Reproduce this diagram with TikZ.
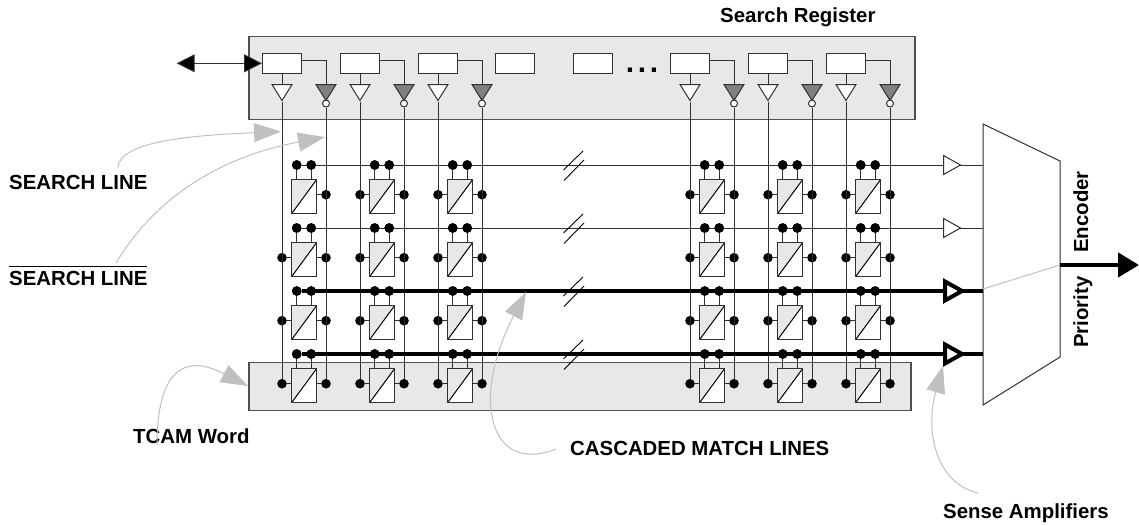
\documentclass[tikz,border=0pt]{standalone}
\usepackage{fontspec}
\setmainfont{Liberation Sans}
\usetikzlibrary{arrows.meta, shapes.geometric}
\definecolor{cwire}{HTML}{303030}
\definecolor{cpanel}{HTML}{E8E8E8}
\definecolor{cinv}{HTML}{808080}
\definecolor{cnote}{HTML}{C0C0C0}
\tikzset{
  panel/.style={draw=cwire!85, fill=cpanel, line width=1.1pt},
  wire/.style={draw=cwire, line width=1pt},
  thickwire/.style={draw=black, line width=4.4pt},
  regbox/.style={draw=cwire, fill=white, line width=1pt, inner sep=0pt,
    minimum width=39pt, minimum height=20pt},
  tricell/.style={draw=cwire, fill=white, line width=1pt, inner sep=0pt,
    minimum width=25pt, minimum height=34pt,
    path picture={
      \fill[cpanel] (path picture bounding box.north west)
        -- (path picture bounding box.north east)
        -- (path picture bounding box.south west) -- cycle;
      \draw[line width=1pt, black] (path picture bounding box.south west)
        -- (path picture bounding box.north east);
    }},
  wdot/.style={circle, fill=black, inner sep=0pt, minimum size=9.6pt},
  bubble/.style={circle, draw=cwire, fill=white, line width=1pt,
    inner sep=0pt, minimum size=7pt},
  tribuf/.style={isosceles triangle, isosceles triangle stretches,
    draw=cwire, line width=1pt, inner sep=0pt, anchor=lower side},
  downbuf/.style={tribuf, shape border rotate=270, fill=#1,
    minimum width=20pt, minimum height=16pt},
  sense/.style={tribuf, fill=white, minimum width=19pt, minimum height=17pt},
  lbl/.style={font=\fontsize{20.4}{24}\selectfont\bfseries, text=black,
    inner sep=0pt, anchor=base west},
  note/.style={draw=cnote, line width=1pt,
    -{Triangle[length=27pt,width=19pt,fill=cnote]}},
}

\begin{document}
\begin{tikzpicture}[x=1pt, y=-1pt]
\useasboundingbox (0,0) rectangle (1139,525);

%% ── Panels ────────────────────────────────────────────────
\node[panel, minimum width=666pt, minimum height=82.6pt, inner sep=0pt] (regpanel) at (582,78) {};
\node[panel, minimum width=662pt, minimum height=48.7pt, inner sep=0pt] (wordpanel) at (580,386.4) {};

%% ── Search register ───────────────────────────────────────
\foreach \col/\xc in {1/282, 2/360, 3/438, 4/515, 5/593, 6/690, 7/768, 8/846}
  \node[regbox] (reg\col) at (\xc,63.3) {};

\foreach \col/\xl/\xr in {1/282/326, 2/360/404, 3/438/482, 6/690/734, 7/768/812, 8/846/890} {
  \node[downbuf=white] (buf\col) at (\xl,84) {};
  \node[downbuf=cinv] (inv\col) at (\xr,84) {};
  \node[bubble] (bub\col) at (\xr,103.5) {};
  \draw[wire] (reg\col) -- (buf\col.lower side);
  \draw[wire] ([yshift=2.6pt]reg\col.east) -| (inv\col.lower side);
}
\node[font=\fontsize{30}{30}\selectfont\bfseries, inner sep=0pt, anchor=base] (dots) at (642,72.7) {.\kern3.7pt.\kern3.7pt.};

%% ── Cells ─────────────────────────────────────────────────
\foreach \col/\xl/\xc/\xr in {1/282/304/326, 2/360/382/404, 3/438/460/482, 6/690/712/734, 7/768/790/812, 8/846/868/890} {
  \foreach \rw/\yl in {1/165, 2/228, 3/291, 4/354} {
    \node[tricell] (cell\col\rw) at (\xc,\yl+31.8) {};
    \node[wdot] (dota\col\rw) at (\xc-7.3,\yl) {};
    \node[wdot] (dotb\col\rw) at (\xc+7.2,\yl) {};
    \node[wdot] (dotr\col\rw) at (\xr,\yl+29.7) {};
    \draw[wire] (dota\col\rw) -- (dota\col\rw |- cell\col\rw.north);
    \draw[wire] (dotb\col\rw) -- (dotb\col\rw |- cell\col\rw.north);
    \draw[wire] (dotr\col\rw) -- (dotr\col\rw -| cell\col\rw.east);
    \ifnum\col\rw=11 \else
      \node[wdot] (dotl\col\rw) at (\xl,\yl+29.7) {};
      \draw[wire] (dotl\col\rw) -- (dotl\col\rw -| cell\col\rw.west);
    \fi
  }
  \draw[wire] (buf\col.apex) -- (dotl\col4);
  \draw[wire] (bub\col) -- (dotr\col4);
}

%% ── Priority encoder ──────────────────────────────────────
\coordinate (muxtop) at (983,124);
\coordinate (muxbot) at (983,405);
\coordinate (muxout) at (1060,265);
\coordinate (muxin) at (983,289);
\coordinate (outtip) at (1139,265);
\draw[wire, fill=white] (muxtop) -- (1060,161) -- (1060,357) -- (muxbot) -- cycle;
\draw[draw=cnote, line width=1pt] (muxin) -- (muxout);
\draw[thickwire, -{Triangle[length=21pt,width=24pt]}] (muxout) -- (outtip);

%% ── Match lines ───────────────────────────────────────────
\foreach \rw/\yl/\ws in {1/165/wire, 2/228/wire, 3/291/thickwire, 4/354/thickwire} {
  \coordinate (mux\rw) at (983,\yl);
  \draw[\ws] (dota1\rw) -- (mux\rw);
  \draw[draw=black, line width=0.9pt] (563.5,\yl+5) -- (583,\yl-14);
  \draw[draw=black, line width=0.9pt] (564,\yl+15.5) -- (584,\yl-5);
}
\foreach \col in {1,2,3,6,7,8}
  \foreach \rw in {1,2,3,4} {
    \node[wdot] at (dota\col\rw) {};
    \node[wdot] at (dotb\col\rw) {};
  }
\node[sense] (amp1) at (943,165) {};
\node[sense] (amp2) at (943,228) {};
\node[sense, draw=black, line width=4pt] (amp3) at (943,291) {};
\node[sense, draw=black, line width=4pt] (amp4) at (943,354) {};

%% ── Data port ─────────────────────────────────────────────
\coordinate (port) at (176.7,63.3);
\draw[wire, {Triangle[length=18pt,width=18pt,fill=black]}-{Triangle[length=18pt,width=18pt,fill=black]}] (port) -- (reg1.west);

%% ── Labels ────────────────────────────────────────────────
\node[lbl] (regname) at (720,22) {Search Register};
\node[lbl] (sline) at (9,189) {SEARCH LINE};
\node[lbl] (slinebar) at (9,285.7) {$\overline{\hbox{\rule{0pt}{18.5pt}SEARCH LINE}}$};
\node[lbl] (wordname) at (133,443) {TCAM Word};
\node[lbl] (casname) at (570,455.7) {CASCADED MATCH LINES};
\node[lbl] (ampname) at (943,518) {Sense Amplifiers};
\node[lbl, rotate=90] (encname) at (1088,253) {Encoder};
\node[lbl, rotate=90] (priname) at (1088,348) {Priority};

%% ── Pointers ──────────────────────────────────────────────
\coordinate (slfrom) at (118,168);
\coordinate (slto) at (281,131.5);
\coordinate (sbfrom) at (116,263);
\coordinate (sbto) at (325,137);
\coordinate (wfrom) at (157,445);
\coordinate (wto) at (248,386);
\coordinate (cfrom) at (556,449);
\coordinate (cto) at (526,292);
\coordinate (afrom) at (978,493);
\coordinate (ato) at (943,366);
\draw[note] (slfrom) .. controls (118,140) and (200,135) .. (slto);
\draw[note] (sbfrom) .. controls (160,190) and (230,155) .. (sbto);
\draw[note] (wfrom) .. controls (157,380) and (178,350) .. (wto);
\draw[note] (cfrom) .. controls (490,475) and (470,400) .. (cto);
\draw[note] (afrom) .. controls (935,483) and (925,430) .. (ato);

\end{tikzpicture}
\end{document}
